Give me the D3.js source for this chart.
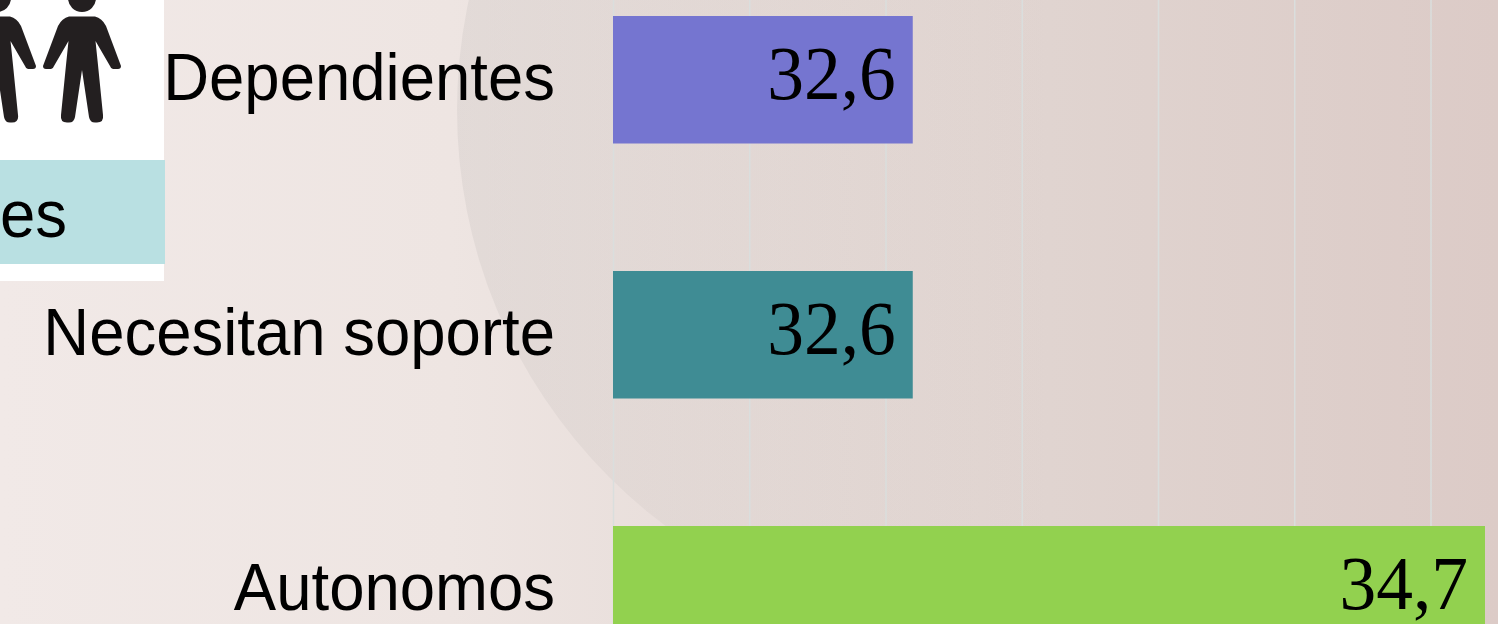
<!DOCTYPE html>
<html><head><meta charset="utf-8">
<script src="https://cdn.jsdelivr.net/npm/d3@7"></script>
<style>html,body{margin:0;padding:0;overflow:hidden;background:#fff}svg{display:block}</style>
</head><body><svg id="c" width="1498" height="624"></svg>
<script>
const categories = ["Dependientes", "Necesitan soporte", "Autonomos"];
const values = [32.6, 32.6, 34.7];
const valueLabels = ["32,6", "32,6", "34,7"];
const barColors = ["#7575d0", "#3f8c94", "#92d14f"];
const gridTicks = [31.5, 32, 32.5, 33, 33.5, 34, 34.5];

const W = 1498, H = 624;
const svg = d3.select("#c");
const defs = svg.append("defs");

const bg = defs.append("linearGradient").attr("id", "bg");
[[0, "#f1e9e7"], [.3, "#eee5e2"], [.7, "#e0d4d0"], [1, "#dccbc7"]].forEach(s =>
  bg.append("stop").attr("offset", s[0]).attr("stop-color", s[1]));
const disc = defs.append("linearGradient").attr("id", "disc").attr("gradientUnits", "userSpaceOnUse")
  .attr("x1", 457).attr("x2", 1050).attr("y1", 0).attr("y2", 0);
disc.append("stop").attr("offset", 0).attr("stop-color", "#b4b0ae").attr("stop-opacity", .2);
disc.append("stop").attr("offset", 1).attr("stop-color", "#b4a8a4").attr("stop-opacity", 0);

svg.append("rect").attr("width", W).attr("height", H).attr("fill", "url(#bg)");
svg.append("circle").attr("cx", 976).attr("cy", 110).attr("r", 519).attr("fill", "url(#disc)");

// white inset with pictogram
svg.append("rect").attr("width", 164).attr("height", 281).attr("fill", "#fff");
const person = "M0,16.5 L13,16.5 Q20,18 24,26 L39,66 Q39,69 36,69 L31,69 Q29,69 28,66 L13.5,41 L16,65 L21,115 Q22,122.5 15,122.5 L13,122.5 Q8,122.5 7,117 L0,70 L-7,117 Q-8,122.5 -13,122.5 L-15,122.5 Q-22,122.5 -21,115 L-16,65 L-13.5,41 L-28,66 Q-29,69 -31,69 L-36,69 Q-39,69 -39,66 L-24,26 Q-20,18 -13,16.5 Z";
[-3, 82].forEach(cx => {
  const g = svg.append("g").attr("transform", `translate(${cx},0)`).attr("fill", "#231f20");
  g.append("ellipse").attr("cy", -2).attr("rx", 14).attr("ry", 14);
  g.append("path").attr("d", person);
});
svg.append("rect").attr("y", 160).attr("width", 165).attr("height", 104).attr("fill", "#b9e0e2");
svg.append("text").attr("text-anchor", "end")
  .attr("font-family", "Liberation Sans").attr("font-size", 63.5).attr("fill", "#000")
  .attr("transform", "translate(67,236.5) scale(1,1.04)").text("es");

const x = d3.scaleLinear().domain([31.5, 34.7]).range([613, 1485]);
const y = d3.scaleBand().domain(categories).range([-47.75, 717.25]).paddingInner(0.5).paddingOuter(0.25);

const axis = svg.append("g").attr("transform", `translate(0,${H})`)
  .call(d3.axisTop(x).tickValues(gridTicks).tickSize(H).tickFormat(""));
axis.select(".domain").remove();
axis.selectAll("line").attr("stroke", "#dadedd").attr("stroke-width", 1.5);

svg.selectAll("rect.bar").data(categories).join("rect").attr("class", "bar")
  .attr("x", x(31.5)).attr("y", d => y(d))
  .attr("width", (d, i) => x(values[i]) - x(31.5))
  .attr("height", y.bandwidth())
  .attr("fill", (d, i) => barColors[i]);

svg.selectAll("text.cat").data(categories).join("text").attr("class", "cat")
  .attr("text-anchor", "end").attr("font-family", "Liberation Sans").attr("font-size", 63.5).attr("fill", "#000")
  .attr("transform", d => `translate(555,${y(d) + 83.5}) scale(1,1.04)`).text(d => d);

svg.selectAll("text.val").data(categories).join("text").attr("class", "val")
  .attr("text-anchor", "end").attr("font-family", "Liberation Serif").attr("font-size", 73.5).attr("fill", "#000")
  .attr("transform", (d, i) => `translate(${x(values[i]) - 17},${y(d) + 83}) scale(1,1.04)`)
  .text((d, i) => valueLabels[i]);
</script></body></html>
